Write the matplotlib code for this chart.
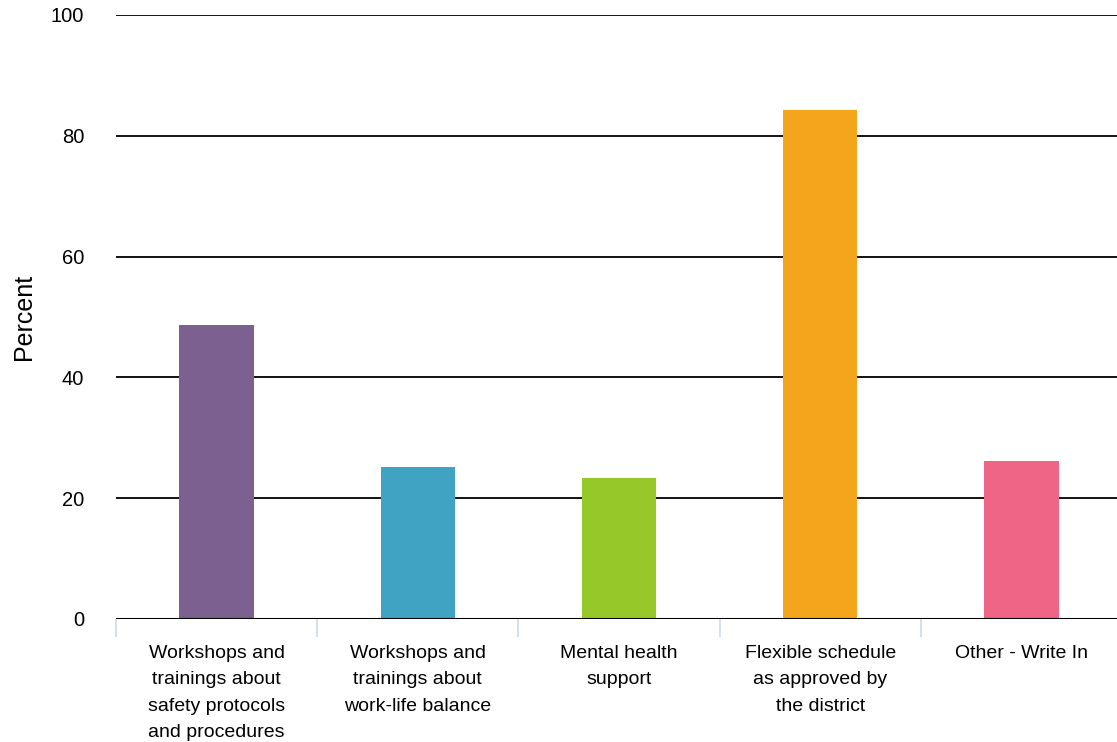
import matplotlib.pyplot as plt
import numpy as np

categories = [
    'Workshops and\ntrainings about\nsafety protocols\nand procedures',
    'Workshops and\ntrainings about\nwork-life balance',
    'Mental health\nsupport',
    'Flexible schedule\nas approved by\nthe district',
    'Other - Write In',
]
percent = [48.7, 25.2, 23.3, 84.3, 26.2]
bar_colors = ['#7B6090', '#41A3C3', '#97C829', '#F5A51C', '#EF6586']
y_ticks = [0, 20, 40, 60, 80, 100]

if __name__ == '__main__':
    plt.rcParams['font.family'] = ['Liberation Sans', 'DejaVu Sans']

    fig = plt.figure(figsize=(11.17, 7.42), dpi=100)
    # axes runs a little past the right edge, like the original export
    ax = fig.add_axes([116 / 1117, 1 - 619 / 742, 1006 / 1117, (619 - 15) / 742])

    x = np.arange(len(categories))
    ax.bar(x, percent, width=0.37, color=bar_colors, zorder=3)

    # horizontal grid lines behind the bars
    for t in y_ticks:
        ax.axhline(t, color='black', lw=1.5 if t == 0 else 1.3, zorder=2 if t else 4)

    ax.set_xlim(-0.5, len(categories) - 0.5)
    ax.set_ylim(0, 100)
    ax.set_yticks(y_ticks)
    ax.tick_params(axis='y', length=0, pad=23, labelsize=14.5)

    ax.set_xticks(x)
    ax.set_xticklabels(categories, fontsize=14, linespacing=1.7, va='top')
    ax.tick_params(axis='x', which='major', length=0, pad=19)
    ax.set_xticks(np.arange(-0.5, len(categories)), minor=True)
    ax.tick_params(axis='x', which='minor', length=13, width=1.2, color='#CCD8EA')

    for s in ax.spines.values():
        s.set_visible(False)

    ax.set_ylabel('Percent', fontsize=18)
    ax.yaxis.set_label_coords(-80 / 1006, 0.5)

    fig.savefig('out.png', dpi=100)
